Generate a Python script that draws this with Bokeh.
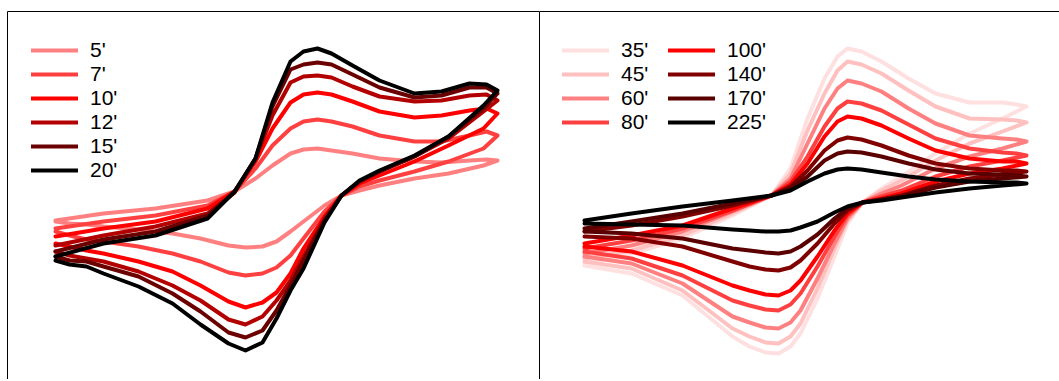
from bokeh.plotting import figure
from bokeh.layouts import row
from bokeh.models import Range1d, LinearAxis, FixedTicker, Legend, LegendItem
from bokeh.embed import file_html
from bokeh.resources import INLINE

# ---------------- Left panel: short times ----------------
labels_a = ["5'", "7'", "10'", "12'", "15'", "20'"]
colors_a = ["#ff8080", "#ff4040", "#ff0000", "#b30000", "#6b0000", "#000000"]

# potential for the forward and reverse sweeps
e_fwd_a = [55, 103, 155, 207, 234, 255, 272, 290, 303, 317, 331, 352, 379, 414, 441, 469, 486, 497]
e_rev_a = [483, 448, 414, 379, 359, 341, 324, 303, 290, 276, 262, 245, 228, 200, 172, 138, 103, 86, 69, 55]

# current (plotted with cathodic direction down the page)
fwd_5 = [222, 215, 210, 202, 193, 180, 167, 155, 151, 150, 152, 155, 160, 163, 164, 162, 161, 162]
rev_5 = [167, 175, 180, 187, 192, 197, 207, 223, 233, 243, 248, 249, 247, 240, 235, 231, 228, 226, 225, 223]
fwd_7 = [230, 223, 217, 207, 193, 170, 147, 130, 123, 121, 123, 128, 137, 143, 143, 137, 133, 137]
rev_7 = [150, 163, 173, 182, 188, 197, 213, 240, 257, 269, 275, 277, 274, 263, 255, 248, 243, 241, 237, 233]
fwd_10 = [238, 230, 223, 210, 193, 163, 130, 104, 96, 94, 96, 103, 113, 119, 117, 112, 110, 115]
rev_10 = [130, 147, 163, 177, 185, 197, 218, 250, 275, 294, 304, 309, 303, 287, 273, 263, 255, 252, 248, 245]
fwd_12 = [247, 237, 228, 215, 194, 160, 117, 84, 78, 77, 79, 88, 98, 103, 102, 97, 96, 102]
rev_12 = [113, 140, 158, 173, 183, 197, 220, 258, 282, 302, 318, 326, 321, 302, 287, 273, 263, 260, 257, 253]
fwd_15 = [253, 241, 233, 217, 194, 160, 108, 71, 66, 64, 66, 76, 89, 99, 97, 89, 89, 95]
rev_15 = [110, 138, 158, 173, 183, 197, 222, 262, 287, 312, 332, 339, 334, 313, 295, 278, 268, 263, 262, 258]
fwd_20 = [258, 245, 237, 220, 193, 160, 104, 63, 53, 50, 55, 67, 82, 95, 93, 85, 86, 92]
rev_20 = [107, 138, 157, 172, 182, 197, 224, 270, 292, 320, 344, 352, 345, 326, 305, 288, 275, 268, 266, 262]

fwd_a = [fwd_5, fwd_7, fwd_10, fwd_12, fwd_15, fwd_20]
rev_a = [rev_5, rev_7, rev_10, rev_12, rev_15, rev_20]

# ---------------- Right panel: long times ----------------
labels_b = ["35'", "45'", "60'", "80'", "100'", "140'", "170'", "225'"]
colors_b = ["#ffe0e0", "#ffc0c0", "#ff8080", "#ff4040", "#ff0000", "#800000", "#5a0000", "#000000"]

e_fwd_b = [584, 631, 682, 732, 771, 790, 807, 824, 837, 847, 861, 881, 908, 935, 969, 1002, 1016, 1026]
e_rev_b = [1002, 969, 935, 901, 881, 862, 847, 834, 817, 800, 790, 778, 765, 749, 732, 682, 631, 584]

fwd_35 = [265, 255, 240, 217, 197, 170, 120, 80, 58, 50, 53, 63, 80, 95, 104, 104, 106, 108]
rev_35 = [120, 135, 155, 178, 190, 204, 225, 258, 300, 335, 348, 355, 354, 348, 338, 297, 275, 267]
fwd_45 = [260, 252, 237, 215, 197, 175, 132, 95, 72, 63, 66, 75, 92, 108, 120, 121, 122, 124]
rev_45 = [133, 145, 162, 182, 192, 204, 222, 250, 290, 325, 338, 345, 344, 338, 330, 292, 270, 263]
fwd_60 = [255, 247, 233, 213, 197, 180, 145, 110, 90, 82, 85, 93, 110, 125, 137, 140, 141, 143]
rev_60 = [150, 158, 170, 187, 195, 204, 220, 245, 280, 312, 324, 330, 329, 324, 318, 285, 265, 258]
fwd_80 = [250, 242, 230, 212, 197, 183, 158, 128, 110, 103, 105, 112, 126, 140, 150, 154, 155, 157]
rev_80 = [162, 168, 178, 192, 198, 204, 217, 238, 268, 295, 306, 312, 311, 307, 302, 277, 260, 253]
fwd_100 = [245, 237, 227, 210, 197, 186, 165, 138, 123, 118, 120, 127, 140, 152, 160, 163, 163, 165]
rev_100 = [170, 175, 183, 195, 200, 204, 215, 232, 258, 282, 292, 297, 296, 292, 287, 267, 253, 248]
fwd_140 = [233, 227, 218, 207, 197, 188, 172, 152, 142, 139, 141, 147, 157, 165, 170, 172, 172, 173]
rev_140 = [176, 180, 187, 197, 201, 204, 212, 225, 245, 262, 269, 272, 271, 268, 263, 248, 240, 238]
fwd_170 = [230, 223, 215, 205, 197, 190, 178, 162, 155, 153, 154, 158, 165, 171, 175, 176, 177, 178]
rev_170 = [180, 183, 189, 198, 201, 204, 210, 220, 236, 248, 253, 255, 254, 252, 250, 240, 235, 233]
fwd_225 = [222, 215, 208, 202, 197, 192, 183, 175, 171, 170, 171, 174, 178, 181, 183, 184, 184, 185]
rev_225 = [187, 190, 194, 199, 202, 204, 208, 214, 223, 229, 232, 233, 233, 232, 231, 227, 226, 225]

fwd_b = [fwd_35, fwd_45, fwd_60, fwd_80, fwd_100, fwd_140, fwd_170, fwd_225]
rev_b = [rev_35, rev_45, rev_60, rev_80, rev_100, rev_140, rev_170, rev_225]

FONT = "Liberation Sans"


def border_axis():
    return LinearAxis(
        ticker=FixedTicker(ticks=[]),
        axis_line_color="black", axis_line_width=1,
        major_tick_line_color=None, minor_tick_line_color=None,
        major_tick_in=0, major_tick_out=0, minor_tick_in=0, minor_tick_out=0,
        major_label_text_font_size="0px", major_label_standoff=0,
    )


def panel(width, left_pad, xr, labels, colors, e_fwd, e_rev, fwds, revs, ncols, loc):
    p = figure(width=width, height=379, x_range=xr, y_range=Range1d(381, 13),
               x_axis_type=None, y_axis_type=None,
               output_backend="svg", toolbar_location=None,
               min_border_left=left_pad, min_border_right=0,
               min_border_top=11, min_border_bottom=0,
               outline_line_color=None, background_fill_color="white",
               border_fill_color="white")
    p.add_layout(border_axis(), "above")
    p.add_layout(border_axis(), "left")
    items = []
    for lab, col, f, r in zip(labels, colors, fwds, revs):
        xs = list(e_fwd) + list(e_rev)
        ys = list(f) + list(r)
        rr = p.line(xs, ys, line_color=col, line_width=4,
                    line_join="round", line_cap="round")
        items.append(LegendItem(label=lab, renderers=[rr]))
    leg = Legend(items=items, location=loc, ncols=ncols,
                 border_line_color=None, background_fill_alpha=0,
                 label_text_font=FONT, label_text_font_size="21px",
                 label_text_color="black",
                 glyph_width=47, glyph_height=24, label_height=24,
                 label_standoff=12, spacing=0, padding=0, margin=0,
                 label_width=47)
    p.add_layout(leg)
    return p


p1 = panel(539, 7, Range1d(7, 539), labels_a, colors_a, e_fwd_a, e_rev_a,
           fwd_a, rev_a, 1, (24, 197))
p2 = panel(520, 0, Range1d(539, 1059), labels_b, colors_b, e_fwd_b, e_rev_b,
           fwd_b, rev_b, 2, (23, 245))

layout = row(p1, p2, spacing=0)
open("out.html", "w").write(file_html(layout, INLINE))
